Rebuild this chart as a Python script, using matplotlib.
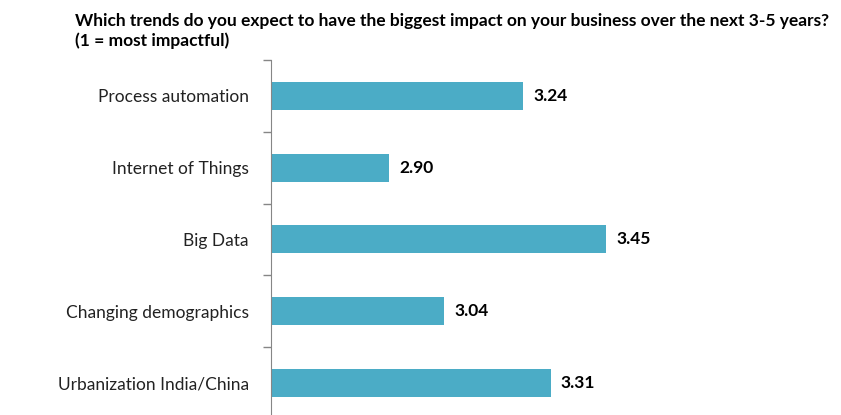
import matplotlib.pyplot as plt

plt.rcParams['font.family'] = ['Lato', 'DejaVu Sans']

trends = ['Process automation', 'Internet of Things', 'Big Data',
          'Changing demographics', 'Urbanization India/China']
scores = [3.24, 2.90, 3.45, 3.04, 3.31]

bar_color = '#4BACC6'
axis_min = 2.6

fig = plt.figure(figsize=(8.41, 4.15), dpi=100)
ax = fig.add_axes([0.3222, -0.0096, 0.6564, 0.865])

ypos = list(range(len(trends)))
ax.barh(ypos, [s - axis_min for s in scores], left=axis_min,
        height=0.39, color=bar_color)

for y, s in zip(ypos, scores):
    ax.text(s + 0.025, y, f'{s:.2f}', va='center', ha='left',
            fontsize=12.5, fontweight='bold', color='#000000')

ax.set_xlim(axis_min, 4.0)
ax.set_ylim(len(trends) - 0.5, -0.5)
ax.set_yticks(ypos)
ax.set_yticklabels(trends, fontsize=12.5, color='#222222')
ax.set_yticks([i - 0.5 for i in range(len(trends) + 1)], minor=True)
ax.tick_params(axis='y', which='major', length=0, pad=16)
ax.tick_params(axis='y', which='minor', length=6, color='#868686', width=1)
ax.set_xticks([])
for side in ['top', 'right', 'bottom']:
    ax.spines[side].set_visible(False)
ax.spines['left'].set_color('#868686')

fig.text(0.089, 0.925,
         'Which trends do you expect to have the biggest impact on your business over the next 3-5 years?\n(1 = most impactful)',
         ha='left', va='center', fontsize=12.5, fontweight='bold',
         linespacing=1.25)

fig.savefig('out.png', dpi=100)
